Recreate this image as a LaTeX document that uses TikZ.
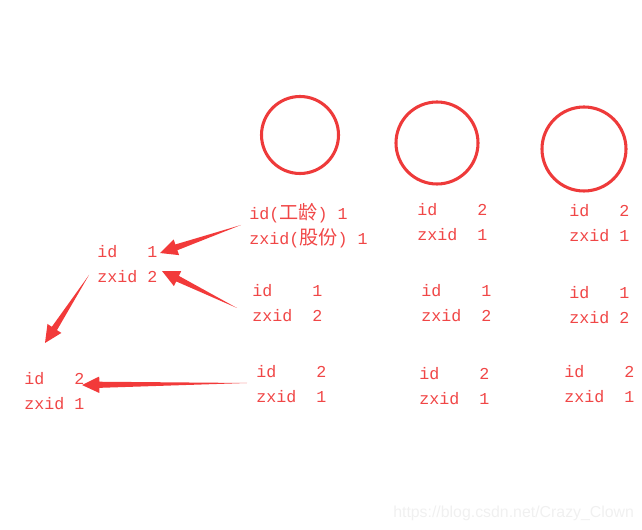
\documentclass[tikz,border=0pt]{standalone}
\usepackage{fontspec}
\usepackage{tikz}
\usetikzlibrary{calc}
\setmainfont{Liberation Mono}
\newfontfamily\cjk[Scale=1.15]{Noto Sans CJK SC}
\newfontfamily\wmfont{Liberation Sans}

\definecolor{penred}{RGB}{240,70,70}
\definecolor{ringred}{RGB}{238,58,58}
\definecolor{arrowred}{RGB}{242,58,58}

\tikzset{
  rec/.style={anchor=base west,inner sep=0.75pt,align=left,text=penred,
    font={\fontsize{12.5}{18.75}\selectfont}},
  ring/.style={draw=ringred,line width=2.3pt},
}

% tapered hand-drawn arrow: #1 tail, #2 tip
\newcommand\taperarrow[2]{%
  \path #1 coordinate (tl) #2 coordinate (tp) ($(tp)!13pt!(tl)$) coordinate (hb);
  \fill[arrowred] (tl) -- ($(hb)!2.3pt!90:(tp)$) -- ($(hb)!6.2pt!90:(tp)$) -- (tp)
    -- ($(hb)!6.2pt!-90:(tp)$) -- ($(hb)!2.3pt!-90:(tp)$) -- cycle;}

\begin{document}
\begin{tikzpicture}[x=0.75pt,y=0.75pt,yscale=-1,xscale=1]
\path[use as bounding box] (0,0) rectangle (642,530);

%Shape: Circle
\draw [ring] (300,135) circle (38.5);
%Shape: Circle
\draw [ring] (437,143) circle (41);
%Shape: Circle
\draw [ring] (584,149) circle (42);

% Text Node (base = last line)
\draw (248,245) node (r1c1) [rec] {id({\cjk 工龄})~1\\zxid({\cjk 股份})~1};
% Text Node
\draw (416,241) node (r1c2) [rec] {id~~~~2\\zxid~~1};
% Text Node
\draw (568,242) node (r1c3) [rec] {id~~~2\\zxid~1};
% Text Node
\draw (251,322) node (r2c1) [rec] {id~~~~1\\zxid~~2};
% Text Node
\draw (420,322) node (r2c2) [rec] {id~~~~1\\zxid~~2};
% Text Node
\draw (568,324) node (r2c3) [rec] {id~~~1\\zxid~2};
% Text Node
\draw (255,403) node (r3c1) [rec] {id~~~~2\\zxid~~1};
% Text Node
\draw (418,405) node (r3c2) [rec] {id~~~~2\\zxid~~1};
% Text Node
\draw (563,403) node (r3c3) [rec] {id~~~~2\\zxid~~1};
% Text Node
\draw (96,283) node (lA) [rec] {id~~~1\\zxid~2};
% Text Node
\draw (23,410) node (lB) [rec] {id~~~2\\zxid~1};

%Arrows
\taperarrow{($(r1c1.base west)+(-7,-20)$)}{($(lA.base west)+(64,-30)$)}
\taperarrow{($(r2c1.base west)+(-14,-14)$)}{($(lA.base west)+(66,-12)$)}
\taperarrow{($(lA.base west)+(-7,-8)$)}{($(lB.base west)+(22,-67)$)}
\taperarrow{($(r3c1.base west)+(-8,-20)$)}{($(lB.base west)+(59,-25)$)}

% Text Node
\draw (393,517) node (wm) [anchor=base west,inner sep=0pt,text=black!6,
  font={\wmfont\fontsize{11.9}{14}\selectfont}] {https://blog.csdn.net/Crazy\_Clown};

\end{tikzpicture}
\end{document}
